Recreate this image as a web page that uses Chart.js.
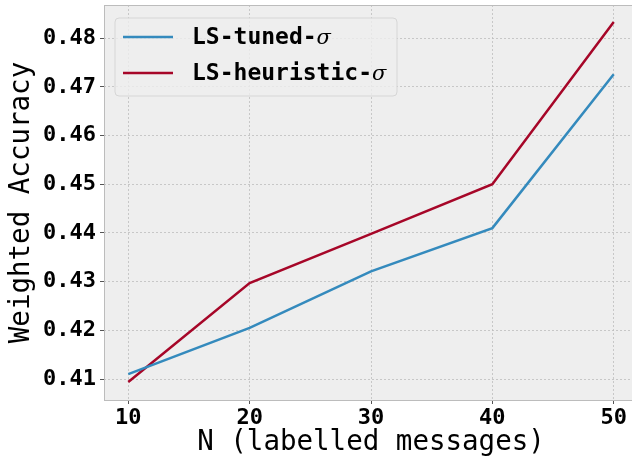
<!DOCTYPE html>
<html lang="en">
<head>
    <meta charset="UTF-8">
    <title>Weighted Accuracy vs N</title>
    <script src="https://cdn.jsdelivr.net/npm/chart.js"></script>
    <style>
        body {
            margin: 0;
            background: white;
            overflow: hidden;
        }
        canvas { display: block; }
    </style>
</head>
<body>
    <canvas id="accChart" width="640" height="463"></canvas>

    <script>
        // values
        const nValues = [10, 20, 30, 40, 50];
        const tunedSigma = [0.4110, 0.4205, 0.4321, 0.4410, 0.4726];
        const heuristicSigma = [0.4094, 0.4297, 0.4398, 0.4500, 0.4833];
        const xTicks = [10, 20, 30, 40, 50];
        const yTicks = [0.41, 0.42, 0.43, 0.44, 0.45, 0.46, 0.47, 0.48];

        const toPoints = ys => nValues.map((n, i) => ({ x: n, y: ys[i] }));

        // grey axes background + thin frame, like matplotlib bmh
        const axesBg = {
            id: 'axesBg',
            beforeDraw(chart) {
                const { ctx, chartArea: a } = chart;
                ctx.save();
                ctx.fillStyle = '#eeeeee';
                ctx.fillRect(a.left, a.top, a.right - a.left, a.bottom - a.top);
                ctx.restore();
            },
            afterDatasetsDraw(chart) {
                const { ctx, chartArea: a } = chart;
                ctx.save();
                ctx.strokeStyle = '#bcbcbc';
                ctx.lineWidth = 1;
                ctx.strokeRect(a.left + 0.5, a.top + 0.5, a.right - a.left, a.bottom - a.top);
                ctx.restore();
            }
        };

        // legend drawn inside the axes (upper left)
        const innerLegend = {
            id: 'innerLegend',
            afterDraw(chart) {
                const ctx = chart.ctx;
                const x = 115, y = 18, w = 282, h = 78;
                ctx.save();
                ctx.globalAlpha = 0.8;
                ctx.fillStyle = '#eeeeee';
                ctx.beginPath();
                ctx.roundRect(x, y, w, h, 4);
                ctx.fill();
                ctx.globalAlpha = 1;
                ctx.strokeStyle = '#d6d6d6';
                ctx.lineWidth = 1;
                ctx.stroke();

                chart.data.datasets.forEach((ds, i) => {
                    const ly = 37 + i * 36;
                    ctx.strokeStyle = ds.borderColor;
                    ctx.lineWidth = 2.5;
                    ctx.beginPath();
                    ctx.moveTo(123, ly);
                    ctx.lineTo(173, ly);
                    ctx.stroke();

                    const main = ds.label.slice(0, -1);
                    const sym = ds.label.slice(-1);
                    ctx.fillStyle = '#000';
                    ctx.textBaseline = 'middle';
                    ctx.font = 'bold 23px "DejaVu Sans Mono"';
                    ctx.fillText(main, 192, ly + 1);
                    const mw = ctx.measureText(main).width;
                    ctx.font = 'italic 21px "DejaVu Serif"';
                    ctx.fillText(sym, 192 + mw, ly + 2);
                });
                ctx.restore();
            }
        };

        const gridStyle = {
            color: '#bdbdbd',
            lineWidth: 0.8,
            tickColor: '#555555',
            tickLength: 4,
            tickWidth: 1,
            tickBorderDash: []
        };
        const borderStyle = { display: false, dash: [2, 2] };

        new Chart(document.getElementById('accChart'), {
            type: 'line',
            data: {
                datasets: [{
                    label: 'LS-tuned-σ',
                    data: toPoints(tunedSigma),
                    borderColor: '#348ABD',
                    borderWidth: 2.5,
                    pointRadius: 0,
                    tension: 0
                }, {
                    label: 'LS-heuristic-σ',
                    data: toPoints(heuristicSigma),
                    borderColor: '#A60628',
                    borderWidth: 2.5,
                    pointRadius: 0,
                    tension: 0
                }]
            },
            options: {
                responsive: false,
                animation: false,
                layout: { padding: { top: 5, right: 2, left: 0, bottom: 0 } },
                plugins: {
                    legend: { display: false },
                    tooltip: { enabled: false }
                },
                scales: {
                    x: {
                        type: 'linear',
                        min: 8,
                        max: 52,
                        afterBuildTicks: s => { s.ticks = xTicks.map(v => ({ value: v })); },
                        afterFit: s => { s.height = 63; s.paddingLeft = 0; s.paddingRight = 0; },
                        grid: gridStyle,
                        border: borderStyle,
                        ticks: {
                            color: '#000',
                            padding: 1,
                            maxRotation: 0,
                            font: { family: 'DejaVu Sans Mono', weight: 'bold', size: 22 },
                            callback: v => String(v)
                        },
                        title: {
                            display: true,
                            text: 'N (labelled messages)',
                            color: '#000',
                            padding: { top: 0, bottom: 4 },
                            font: { family: 'DejaVu Sans Mono', size: 27.5 }
                        }
                    },
                    y: {
                        min: 0.4057,
                        max: 0.4868,
                        afterBuildTicks: s => { s.ticks = yTicks.map(v => ({ value: v })); },
                        afterFit: s => { s.width = 104; s.paddingTop = 0; s.paddingBottom = 0; },
                        grid: gridStyle,
                        border: borderStyle,
                        ticks: {
                            color: '#000',
                            padding: 4,
                            font: { family: 'DejaVu Sans Mono', weight: 'bold', size: 22 },
                            callback: v => v.toFixed(2)
                        },
                        title: {
                            display: true,
                            text: 'Weighted Accuracy',
                            color: '#000',
                            padding: { top: 5, bottom: 0 },
                            font: { family: 'DejaVu Sans Mono', size: 27.5 }
                        }
                    }
                }
            },
            plugins: [axesBg, innerLegend]
        });
    </script>
</body>
</html>
